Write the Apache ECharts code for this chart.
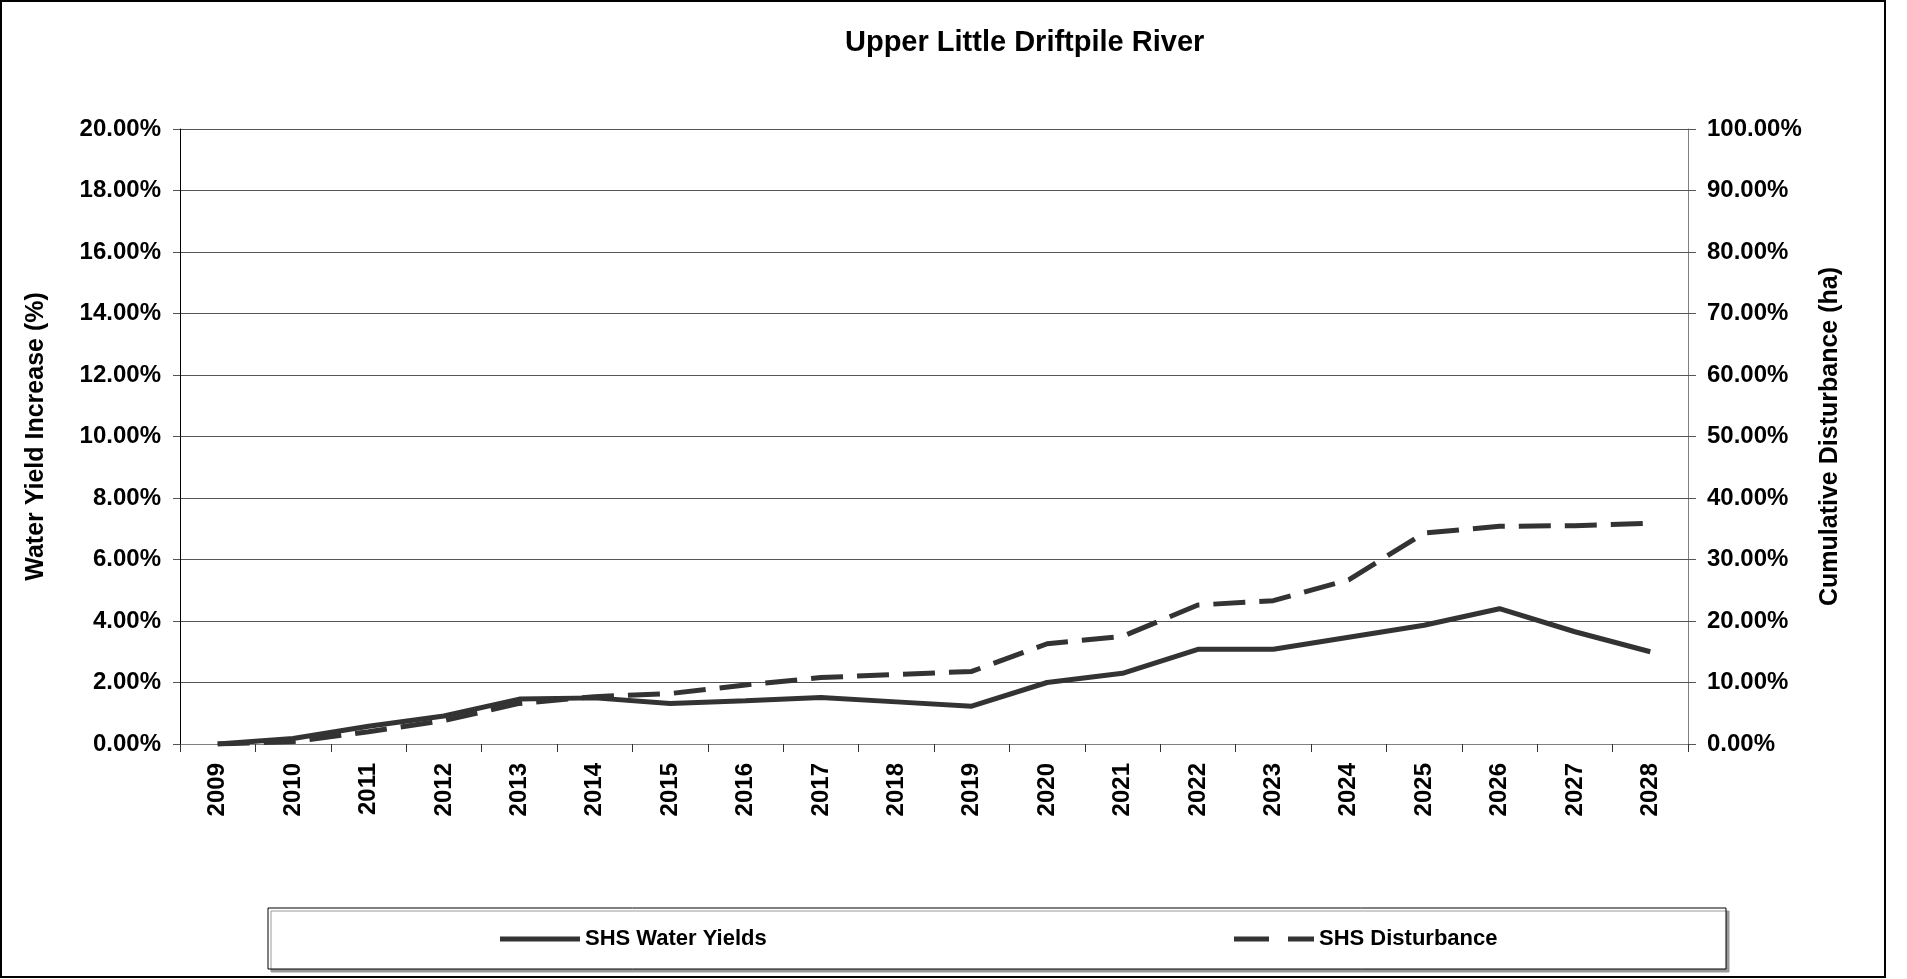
<!DOCTYPE html>
<html>
<head>
<meta charset="utf-8">
<style>html,body{margin:0;padding:0;background:#fff;}#c{width:1907px;height:979px;}</style>
<script src="https://cdn.jsdelivr.net/npm/echarts@6/dist/echarts.min.js"></script>
</head>
<body>
<div id="c"></div>
<script>
var years = ['2009','2010','2011','2012','2013','2014','2015','2016','2017','2018','2019','2020','2021','2022','2023','2024','2025','2026','2027','2028'];
var waterYields = [0, 0.18, 0.58, 0.91, 1.46, 1.50, 1.32, 1.41, 1.51, 1.37, 1.23, 2.00, 2.30, 3.08, 3.08, 3.47, 3.86, 4.40, 3.65, 3.00];
var disturbance = [0, 0.4, 2.0, 3.8, 6.6, 7.7, 8.2, 9.6, 10.8, 11.3, 11.8, 16.3, 17.5, 22.6, 23.3, 26.7, 34.3, 35.4, 35.5, 35.9];
var leftAxis = {min: 0, max: 20, interval: 2};
var rightAxis = {min: 0, max: 100, interval: 10};
var seriesNames = ['SHS Water Yields', 'SHS Disturbance'];

var FF = 'Liberation Sans, Arial, sans-serif';
var chart = echarts.init(document.getElementById('c'));
function pct(v){ return v.toFixed(2) + '%'; }
var lblStyle = {fontFamily: FF, fontWeight: 'bold', fontSize: 24, color: '#000'};
var legText = {fontFamily: FF, fontWeight: 'bold', fontSize: 22, color: '#000'};
chart.setOption({
  animation: false,
  backgroundColor: '#fff',
  title: {
    text: 'Upper Little Driftpile River',
    left: 845, top: 28, padding: 0,
    textStyle: {fontFamily: FF, fontWeight: 'bold', fontSize: 29, color: '#000'}
  },
  graphic: [
    {type: 'rect', z: -10, shape: {x: 1, y: 1, width: 1884, height: 976}, style: {fill: 'none', stroke: '#000', lineWidth: 2}},
    {type: 'rect', z: -5, shape: {x: 268, y: 908, width: 1458, height: 61}, style: {fill: '#fff', stroke: '#000', lineWidth: 1, shadowColor: '#999', shadowOffsetX: 3, shadowOffsetY: 3, shadowBlur: 0}}
  ],
  legend: [
    {data: [{name: seriesNames[0], icon: 'path://M0,0h80v5h-80z'}], left: 500, top: 928, padding: 0, itemWidth: 80, itemHeight: 5, itemGap: 5,
     textStyle: legText},
    {data: [{name: seriesNames[1], icon: 'path://M0,0h35v5h-35z M54,0h26v5h-26z'}], left: 1234, top: 928, padding: 0, itemWidth: 80, itemHeight: 5, itemGap: 5,
     textStyle: legText}
  ],
  grid: {left: 180, top: 129, width: 1508, height: 615, containLabel: false},
  xAxis: {
    type: 'category', data: years, boundaryGap: true,
    axisLine: {lineStyle: {color: '#808080', width: 1}},
    axisTick: {show: true, length: 8, interval: 0, lineStyle: {color: '#333'}},
    axisLabel: Object.assign({interval: 0, rotate: 90, margin: 19}, lblStyle),
    splitLine: {show: false}
  },
  yAxis: [
    {
      type: 'value', min: leftAxis.min, max: leftAxis.max, interval: leftAxis.interval, position: 'left',
      name: 'Water Yield Increase (%)', nameLocation: 'middle', nameRotate: 90, nameGap: 131,
      nameTextStyle: {fontFamily: FF, fontWeight: 'bold', fontSize: 25, color: '#000'},
      axisLine: {show: true, lineStyle: {color: '#000', width: 1}},
      axisTick: {show: true, length: 7, lineStyle: {color: '#555'}},
      axisLabel: Object.assign({margin: 19, formatter: pct}, lblStyle),
      splitLine: {show: true, lineStyle: {color: '#555', width: 1}}
    },
    {
      type: 'value', min: rightAxis.min, max: rightAxis.max, interval: rightAxis.interval, position: 'right',
      name: 'Cumulative Disturbance (ha)', nameLocation: 'middle', nameRotate: 90, nameGap: 130,
      nameTextStyle: {fontFamily: FF, fontWeight: 'bold', fontSize: 25, color: '#000'},
      axisLine: {show: true, lineStyle: {color: '#808080', width: 1}},
      axisTick: {show: true, length: 8, lineStyle: {color: '#555'}},
      axisLabel: Object.assign({margin: 19, formatter: pct}, lblStyle),
      splitLine: {show: false}
    }
  ],
  series: [
    {name: seriesNames[0], type: 'line', yAxisIndex: 0, data: waterYields, symbol: 'none', smooth: false,
     itemStyle: {color: '#333'}, lineStyle: {color: '#333', width: 5, type: 'solid'}},
    {name: seriesNames[1], type: 'line', yAxisIndex: 1, data: disturbance, symbol: 'none', smooth: false,
     itemStyle: {color: '#333'}, lineStyle: {color: '#333', width: 5, type: [32, 14], cap: 'butt'}}
  ]
});
</script>
</body>
</html>
